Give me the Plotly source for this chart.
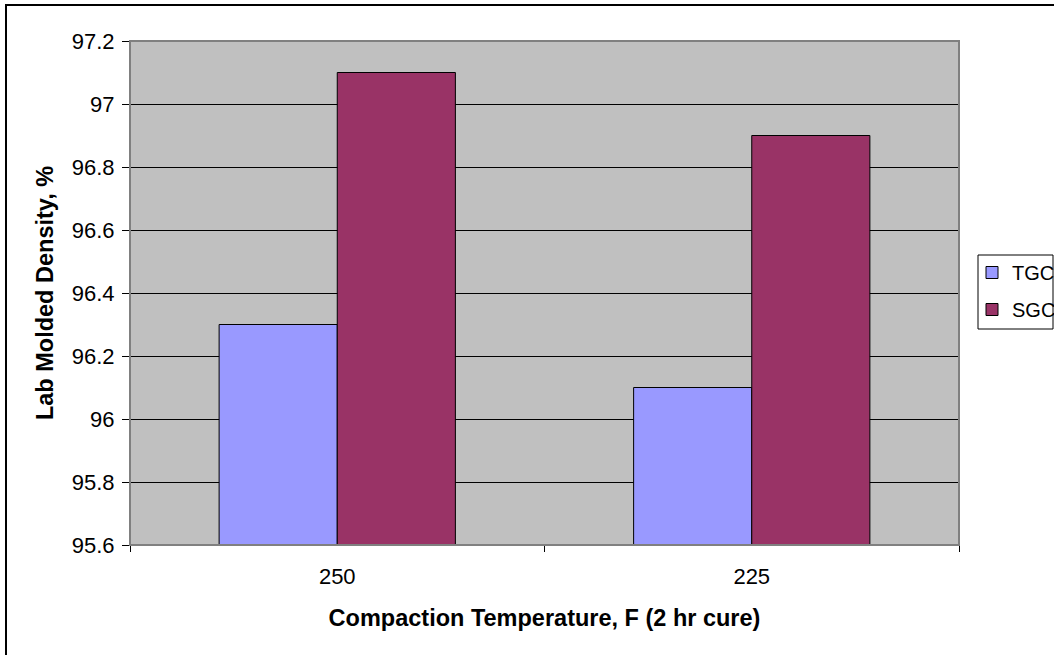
import plotly.graph_objects as go

categories = ["250", "225"]
tgc_values = [96.3, 96.1]
sgc_values = [97.1, 96.9]
y_tick_vals = [95.6, 95.8, 96.0, 96.2, 96.4, 96.6, 96.8, 97.0, 97.2]
y_tick_text = ["95.6", "95.8", "96", "96.2", "96.4", "96.6", "96.8", "97", "97.2"]

W, H = 1054, 655
ML, MR, MT, MB = 130, 95, 41, 110
PW, PH = W - ML - MR, H - MT - MB


def px_x(px):
    return (px - ML) / PW


def px_y(py):
    return (H - MB - py) / PH


FONT = "Liberation Sans, Arial, sans-serif"

fig = go.Figure()
fig.add_trace(go.Bar(name="TGC", x=categories, y=tgc_values, legendgroup="tgc",
                     marker=dict(color="#9999FF", line=dict(color="#000000", width=1))))
fig.add_trace(go.Bar(name="SGC", x=categories, y=sgc_values, legendgroup="sgc",
                     marker=dict(color="#993366", line=dict(color="#000000", width=1))))

fig.update_layout(
    width=W, height=H,
    margin=dict(l=ML, r=MR, t=MT, b=MB, autoexpand=False),
    paper_bgcolor="#FFFFFF",
    plot_bgcolor="#C0C0C0",
    barmode="group",
    bargap=0.43,
    bargroupgap=0,
    font=dict(family=FONT, size=22, color="#000000"),
    showlegend=True,
    legend=dict(
        x=px_x(972), y=px_y(253), xanchor="left", yanchor="top",
        bgcolor="rgba(0,0,0,0)", borderwidth=0,
        font=dict(family=FONT, size=20, color="#000000"),
        itemwidth=30,
        tracegroupgap=8,
        traceorder="grouped",
    ),
    xaxis=dict(
        type="category",
        showline=True, linecolor="#000000", linewidth=1,
        ticks="outside", ticklen=6, tickcolor="#000000", tickson="boundaries",
        showgrid=False,
        tickfont=dict(family=FONT, size=22),
        ticklabelstandoff=12,
        title=dict(text="<b>Compaction Temperature, F (2 hr cure)</b>",
                   font=dict(family=FONT, size=23.5), standoff=21),
    ),
    yaxis=dict(
        range=[95.6, 97.2],
        tickvals=y_tick_vals, ticktext=y_tick_text,
        showline=True, linecolor="#000000", linewidth=1,
        ticks="outside", ticklen=7, tickcolor="#000000",
        showgrid=True, gridcolor="#000000", gridwidth=1,
        zeroline=False,
        tickfont=dict(family=FONT, size=22),
        ticklabelstandoff=3,
        title=dict(text="<b>Lab Molded Density, %</b>",
                   font=dict(family=FONT, size=23.5), standoff=11),
    ),
    shapes=[
        # plot area border
        dict(type="rect", xref="paper", yref="paper", x0=0, y0=0, x1=1, y1=1,
             line=dict(color="#808080", width=2), layer="above"),
        # outer chart border (cropped on right/bottom)
        dict(type="rect", xref="paper", yref="paper",
             x0=px_x(6), y0=px_y(670), x1=px_x(1070), y1=px_y(5),
             line=dict(color="#000000", width=2)),
        # legend box
        dict(type="rect", xref="paper", yref="paper",
             x0=px_x(978), y0=px_y(329), x1=px_x(1053), y1=px_y(255),
             line=dict(color="#000000", width=1), fillcolor="#FFFFFF", layer="below"),
    ],
)

fig.write_html("out.html", config={"displayModeBar": False},
               post_script="document.body.style.margin='0px';")
